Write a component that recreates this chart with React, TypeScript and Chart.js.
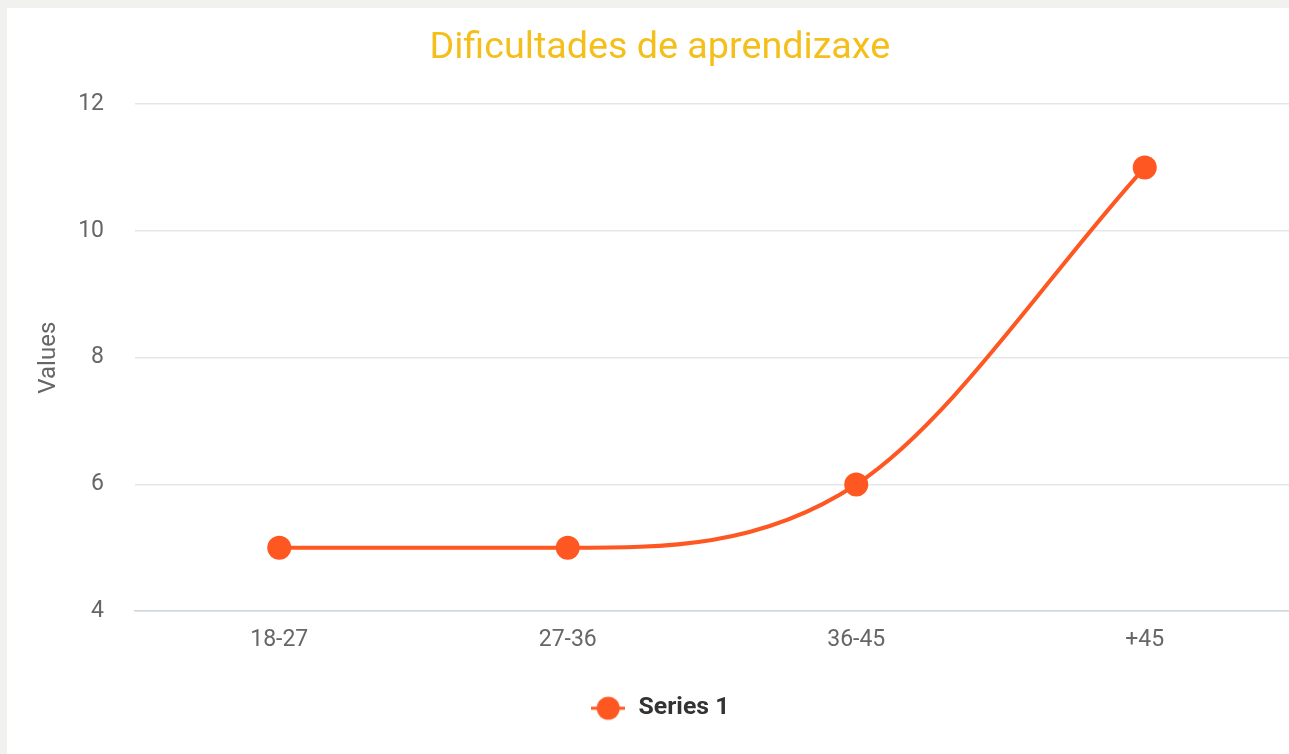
import React, { useEffect, useRef } from "react";
import { Chart, registerables } from "chart.js";

Chart.register(...registerables);

const categories = ["18-27", "27-36", "36-45", "+45"];
const series1 = [5, 5, 6, 11];
const seriesName = "Series 1";
const chartTitle = "Dificultades de aprendizaxe";
const yAxisTitle = "Values";
const yMin = 4;
const yMax = 12;
const yStep = 2;

const ORANGE = "#FF5722";

function makeLegendIcon(): HTMLCanvasElement {
  const c = document.createElement("canvas");
  c.width = 34;
  c.height = 26;
  const ctx = c.getContext("2d")!;
  ctx.fillStyle = ORANGE;
  ctx.fillRect(0, 11.5, 34, 3);
  ctx.beginPath();
  ctx.arc(17, 13, 11.5, 0, Math.PI * 2);
  ctx.fill();
  return c;
}

export default function App() {
  const ref = useRef<HTMLCanvasElement | null>(null);

  useEffect(() => {
    if (!ref.current) return;
    const icon = makeLegendIcon();
    const chart = new Chart(ref.current, {
      type: "line",
      data: {
        labels: categories,
        datasets: [
          {
            label: seriesName,
            data: series1,
            borderColor: ORANGE,
            backgroundColor: ORANGE,
            borderWidth: 4,
            pointRadius: 12,
            pointHoverRadius: 12,
            pointBorderWidth: 0,
            pointBackgroundColor: ORANGE,
            cubicInterpolationMode: "monotone",
            fill: false,
          },
        ],
      },
      options: {
        responsive: false,
        animation: false,
        layout: { autoPadding: false, padding: { left: 23.6, right: 0, top: 0, bottom: 23.4 } },
        plugins: {
          title: {
            display: true,
            text: chartTitle,
            color: "#F5BF1B",
            font: { family: "Roboto", size: 37.7, weight: "normal" },
            padding: { top: 17.5, bottom: 33.5 },
          },
          legend: {
            position: "bottom",
            labels: {
              usePointStyle: true,
              pointStyle: icon as any,
              pointStyleWidth: 36,
              padding: 27,
              color: "#333333",
              font: { family: "Roboto", size: 24.8, weight: "bold" },
            },
          },
          tooltip: { enabled: false },
        },
        scales: {
          x: {
            offset: true,
            grid: { display: false, drawTicks: false },
            border: { display: true, color: "#cdd7de", width: 1.5 },
            ticks: {
              color: "#666666",
              font: { family: "Roboto", size: 23 },
              padding: 15,
            },
          },
          y: {
            min: yMin,
            max: yMax,
            grid: { color: "#e3e7eb", drawTicks: false, lineWidth: 1.5 },
            border: { display: false },
            ticks: {
              stepSize: yStep,
              color: "#666666",
              font: { family: "Roboto", size: 23 },
              padding: 31,
            },
            title: {
              display: true,
              text: yAxisTitle,
              color: "#666666",
              font: { family: "Roboto", size: 24 },
              padding: { top: 4, bottom: 4 },
            },
            afterFit: (scale: any) => {
              scale.width = 104.4;
            },
          },
        },
      },
    });
    return () => chart.destroy();
  }, []);

  return (
    <div style={{ position: "fixed", inset: 0, background: "#f1f1ef" }}>
      <div
        style={{
          position: "absolute",
          left: 7,
          top: 8,
          width: 1282,
          height: 746,
          background: "#ffffff",
        }}
      >
        <canvas ref={ref} width={1282} height={746} style={{ display: "block" }} />
      </div>
    </div>
  );
}
